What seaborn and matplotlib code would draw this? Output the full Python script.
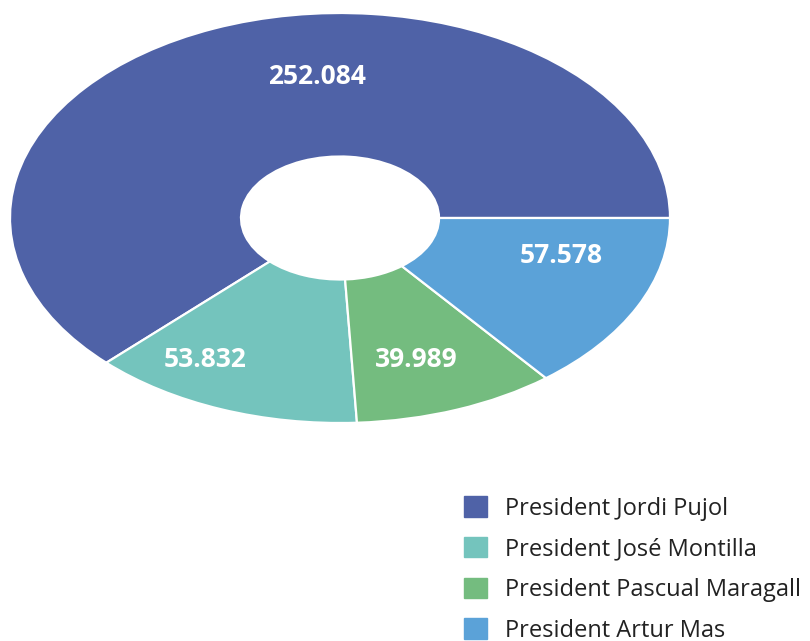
import matplotlib
matplotlib.use("Agg")
import matplotlib.pyplot as plt
import matplotlib.patches as mpatches
import seaborn as sns

# Dades: vots per president
labels = ["President Jordi Pujol", "President José Montilla",
          "President Pascual Maragall", "President Artur Mas"]
values = [252.084, 53.832, 39.989, 57.578]
value_text = ["252.084", "53.832", "39.989", "57.578"]
colors = ["#4F62A7", "#74C4BD", "#74BC7F", "#5BA2D8"]
# posicions de les etiquetes (coordenades de l'eix, radi 1 = vora exterior)
label_pos = [(-0.07, 0.69), (-0.41, -0.69), (0.23, -0.69), (0.67, -0.185)]

sns.set_theme(style="white")
plt.rcParams["font.family"] = ["Open Sans", "DejaVu Sans"]

fig = plt.figure(figsize=(8.1, 6.41), dpi=100)
ax = fig.add_axes([10 / 810, 218 / 641, 660 / 810, 410 / 641])

wedges, _ = ax.pie(values, colors=sns.color_palette(colors), startangle=0,
                   counterclock=True,
                   wedgeprops=dict(width=0.7, edgecolor="white", linewidth=1.6))
for w in wedges:
    w.set_clip_on(False)
ax.set_aspect("auto")
ax.set_xlim(-1, 1)
ax.set_ylim(-1, 1)
ax.axis("off")

for (x, y), t in zip(label_pos, value_text):
    ax.text(x, y, t, ha="center", va="center", color="white",
            fontsize=19, fontweight="bold")

handles = [mpatches.Patch(facecolor=c, edgecolor=c, label=l)
           for c, l in zip(colors, labels)]
fig.legend(handles=handles, loc="upper left", bbox_to_anchor=(455 / 810, 1 - 487 / 641),
           frameon=False, fontsize=17, handlelength=0.95, handleheight=0.95,
           handletextpad=0.75, labelspacing=0.69, labelcolor="#222222",
           borderaxespad=0)

fig.savefig("out.png", dpi=100)
